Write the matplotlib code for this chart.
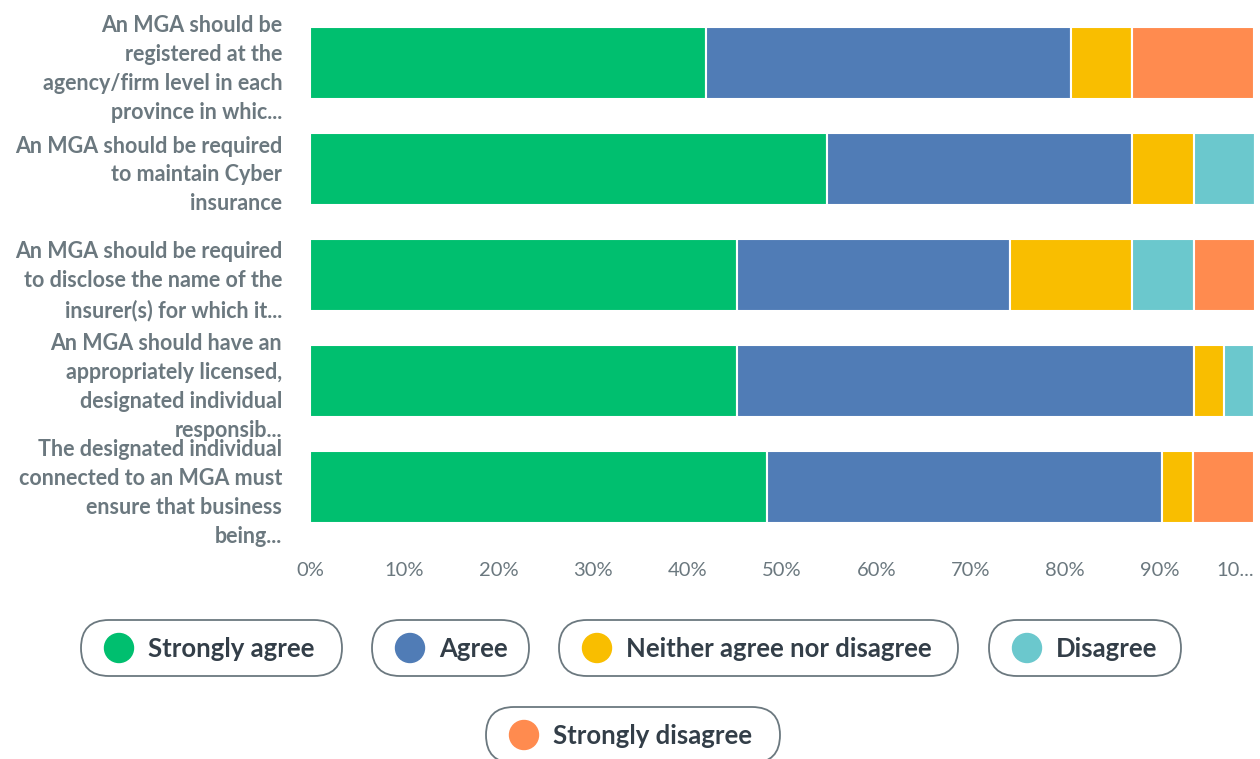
import matplotlib
matplotlib.use('Agg')
import matplotlib.pyplot as plt
from matplotlib.patches import FancyBboxPatch, Circle
import numpy as np

plt.rcParams['font.family'] = ['Lato', 'DejaVu Sans']

# Data (percent of respondents)
questions = [
    'An MGA should be\nregistered at the\nagency/firm level in each\nprovince in whic...',
    'An MGA should be required\nto maintain Cyber\ninsurance',
    'An MGA should be required\nto disclose the name of the\ninsurer(s) for which it...',
    'An MGA should have an\nappropriately licensed,\ndesignated individual\nresponsib...',
    'The designated individual\nconnected to an MGA must\nensure that business\nbeing...',
]
answers = ['Strongly agree', 'Agree', 'Neither agree nor disagree', 'Disagree', 'Strongly disagree']
strongly_agree = [41.9, 54.8, 45.2, 45.2, 48.4]
agree = [38.7, 32.3, 29.0, 48.4, 41.9]
neither = [6.5, 6.5, 12.9, 3.2, 3.2]
disagree = [0.0, 6.5, 6.5, 3.2, 0.0]
strongly_disagree = [12.9, 0.0, 6.5, 0.0, 6.5]
x_ticks = [0, 10, 20, 30, 40, 50, 60, 70, 80, 90, 100]
x_tick_labels = ['0%', '10%', '20%', '30%', '40%', '50%', '60%', '70%', '80%', '90%', '10...']

COLORS = ['#00BF6F', '#507CB6', '#F9BE00', '#6BC8CD', '#FF8B4F']
LABEL_GRAY = '#6B787F'
LEGEND_TEXT = '#333E48'

W, H = 1260, 759
fig = plt.figure(figsize=(W / 100, H / 100), dpi=100)
ax = fig.add_axes([310 / W, 1 - 540 / H, (1254 - 310) / W, 530 / H])

series = [strongly_agree, agree, neither, disagree, strongly_disagree]
y = np.arange(len(questions))
left = np.zeros(len(questions))
for vals, color in zip(series, COLORS):
    vals = np.array(vals)
    ax.barh(y, vals, left=left, height=0.67, color=color,
            edgecolor='white', linewidth=1.5)
    left += vals

ax.set_xlim(0, 100)
ax.set_ylim(len(questions) - 0.5, -0.5)
ax.set_yticks(y)
ax.set_yticklabels(questions, fontsize=15.5, color=LABEL_GRAY,
                   fontweight='bold', linespacing=1.47)
ax.set_xticks(x_ticks)
ax.set_xticklabels(x_tick_labels, fontsize=14.5, color=LABEL_GRAY)
ax.get_xticklabels()[-1].set_ha('right')
ax.tick_params(axis='y', length=0, pad=20)
ax.tick_params(axis='x', length=0, pad=15.5)
for s in ax.spines.values():
    s.set_visible(False)

# Pill-style legend drawn in pixel coordinates
lax = fig.add_axes([0, 0, 1, 1])
lax.set_xlim(0, W)
lax.set_ylim(H, 0)
lax.axis('off')
boxes = [(81, 342, 648), (372, 529, 648), (559, 958, 648),
         (989, 1181, 648), (486, 780, 735)]
for (x0, x1, yc), label, color in zip(boxes, answers, COLORS):
    pill = FancyBboxPatch((x0, yc - 28), x1 - x0, 56,
                          boxstyle='round,pad=0,rounding_size=28',
                          facecolor='white', edgecolor='#6B787F',
                          linewidth=1.3)
    lax.add_patch(pill)
    lax.add_patch(Circle((x0 + 38, yc), 14.5, color=color))
    lax.text(x0 + 67, yc + 1, label, fontsize=18.5, color=LEGEND_TEXT,
             ha='left', va='center', fontweight='bold')

fig.savefig('out.png', dpi=100)
